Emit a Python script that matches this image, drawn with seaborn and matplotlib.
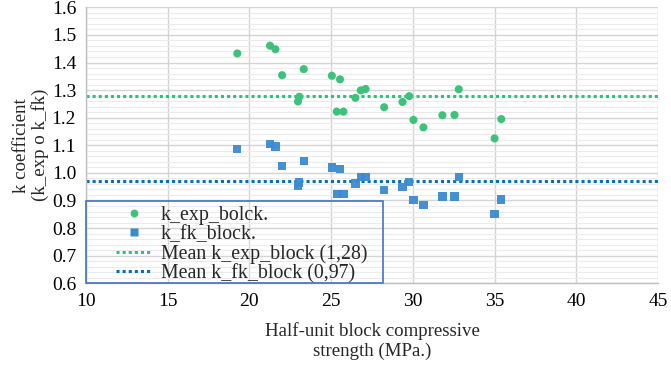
import matplotlib
matplotlib.use("Agg")
import matplotlib.pyplot as plt
from matplotlib.lines import Line2D
from matplotlib.patches import Rectangle
from matplotlib.ticker import MultipleLocator
import seaborn as sns
import pandas as pd

# ------------------------------------------------------------------
# data
# ------------------------------------------------------------------
strength = [19.26, 21.26, 21.59, 22.0, 22.97, 23.05, 23.32, 25.04, 25.34, 25.54,
            25.75, 26.48, 26.81, 27.1, 28.24, 29.36, 29.77, 30.03, 30.64, 31.8,
            32.54, 32.8, 34.99, 35.4]
k_exp = [1.433, 1.461, 1.448, 1.354, 1.259, 1.276, 1.376, 1.352, 1.222, 1.339,
         1.222, 1.272, 1.299, 1.304, 1.238, 1.257, 1.278, 1.192, 1.165, 1.209,
         1.210, 1.303, 1.125, 1.195]
k_fk = [1.086, 1.104, 1.096, 1.024, 0.953, 0.965, 1.042, 1.020, 0.924, 1.013,
        0.924, 0.962, 0.984, 0.985, 0.937, 0.949, 0.966, 0.901, 0.883, 0.915,
        0.915, 0.984, 0.850, 0.904]
mean_exp = 1.28
mean_fk = 0.97

labels = ["k_exp_bolck.", "k_fk_block.",
          "Mean k_exp_block (1,28)", "Mean k_fk_block (0,97)"]

green = "#3cc27a"
blue = "#3a8ad0"
green_line = "#2fc07a"
blue_line = "#0070c0"

df = pd.DataFrame({"strength": strength, "k_exp": k_exp, "k_fk": k_fk})

# ------------------------------------------------------------------
# style
# ------------------------------------------------------------------
sns.set_theme(style="whitegrid")
plt.rcParams["font.family"] = ["Liberation Serif", "DejaVu Serif"]

fig = plt.figure(figsize=(6.71, 3.66), dpi=100)
ax = fig.add_axes([0.128, 0.226, 0.853, 0.754])

sns.scatterplot(data=df, x="strength", y="k_exp", ax=ax, color=green,
                marker="o", s=34, edgecolor="none", zorder=3)
sns.scatterplot(data=df, x="strength", y="k_fk", ax=ax, color=blue,
                marker="s", s=36, edgecolor="none", zorder=3, alpha=0.95)

ax.axhline(mean_exp, color=green_line, lw=2.2, ls=(0, (1, 1)), zorder=2)
ax.axhline(mean_fk, color=blue_line, lw=2.2, ls=(0, (1, 1)), zorder=2)

ax.set_xlim(10, 45)
ax.set_ylim(0.6, 1.6)
ax.xaxis.set_major_locator(MultipleLocator(5))
ax.yaxis.set_major_locator(MultipleLocator(0.1))
ax.yaxis.set_minor_locator(MultipleLocator(0.02))
ax.yaxis.set_major_formatter(plt.FuncFormatter(lambda v, p: f"{v:.1f}"))

ax.set_facecolor("white")
ax.grid(which="major", color="#d4d4d4", lw=1.0)
ax.grid(which="minor", axis="y", color="#ebebeb", lw=0.8)
ax.set_axisbelow(True)
for side in ["top", "right"]:
    ax.spines[side].set_visible(False)
for side in ["left", "bottom"]:
    ax.spines[side].set_color("#bfbfbf")
    ax.spines[side].set_linewidth(1.0)

ax.tick_params(axis="both", which="major", labelsize=14, length=4,
               color="#bfbfbf", colors="black", pad=3)
ax.tick_params(axis="y", which="minor", length=0)
ax.tick_params(axis="both", which="major", color="#bfbfbf")

ax.set_xlabel("Half-unit block compressive\nstrength (MPa.)", fontsize=13.6,
              labelpad=9, linespacing=1.2)
ax.set_ylabel("k coefficient\n(k_exp o k_fk)", fontsize=13.6, labelpad=2,
              linespacing=1.05)

# legend: box drawn separately, content placed inside it
ax.add_patch(Rectangle((0, 0), 0.519, 0.298, transform=ax.transAxes,
                       fill=False, edgecolor="#4472c4", lw=1.2, zorder=4,
                       clip_on=False))
handles = [
    Line2D([], [], ls="none", marker="o", ms=5.6, color=green, mec="none"),
    Line2D([], [], ls="none", marker="s", ms=5.8, color=blue, mec="none"),
    Line2D([], [], color=green_line, lw=2.2, ls=(0, (1, 1))),
    Line2D([], [], color=blue_line, lw=2.2, ls=(0, (1, 1))),
]
ax.legend(handles, labels, loc="upper left", bbox_to_anchor=(0.048, 0.29),
          frameon=False, fontsize=14.3, handlelength=1.75, handletextpad=0.5,
          labelspacing=0.0, borderpad=0.15, borderaxespad=0)

fig.savefig("out.png", dpi=100)
